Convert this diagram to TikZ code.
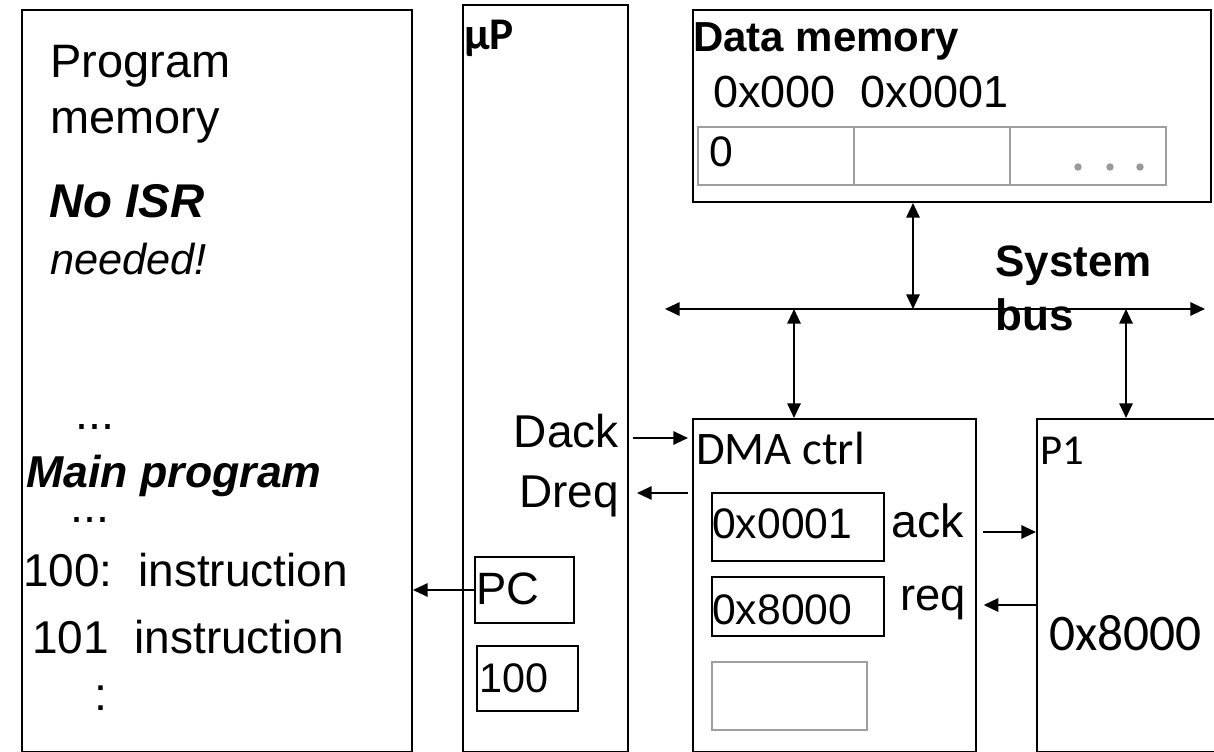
\documentclass[tikz,border=0pt]{standalone}
\usepackage{fontspec}
\setmainfont{Liberation Sans}
\newfontfamily\calfont{Carlito}
\usetikzlibrary{arrows.meta,fit}

\newcommand{\fs}[1]{\fontsize{#1}{#1}\selectfont}
\tikzset{
  box/.style={draw, line width=1.5pt, inner sep=0pt},
  reg/.style={draw, line width=1.2pt, inner sep=0pt},
  cell/.style={draw=black!38, line width=1.2pt, inner sep=0pt},
  lbl/.style={inner sep=0pt, anchor=base west},
  lblr/.style={inner sep=0pt, anchor=base east},
  dots/.style={lbl, text height=4pt, text depth=0pt},
  arr/.style={line width=1.5pt, -{Triangle[length=11pt,width=10pt]}},
  dbl/.style={line width=1.5pt, {Triangle[length=11pt,width=10pt]}-{Triangle[length=11pt,width=10pt]}},
}

\begin{document}
\begin{tikzpicture}[x=0.75pt,y=-0.75pt]
\useasboundingbox (0,0) rectangle (1214,752);
\clip (0,0) rectangle (1214,752);

% blocks
\node[box, fit={(22,10) (412,752)}] (progmem) {};
\node[box, fit={(463,5) (628,752)}] (cpu) {};
\node[box, fit={(693,10) (1211,202)}] (datamem) {};
\node[box, fit={(693,419) (976,752)}] (dma) {};
\node[box, fit={(1037,419) (1240,752)}] (pone) {};

% program memory
\node[lbl, font=\fs{35.2pt}] (pmA) at (50,78) {Program};
\node[lbl, font=\fs{35.2pt}] (pmB) at (50,134) {memory};
\node[lbl, font=\bfseries\itshape\fs{35.5pt}] (noisr) at (49,218) {No ISR};
\node[lbl, font=\itshape\fs{32.5pt}] (needed) at (50,275) {needed!};
\node[dots, font=\fs{35pt}] (dotsA) at (75,429) {...};
\node[lbl, font=\bfseries\itshape\fs{33.5pt}] (mainprog) at (26,487) {Main program};
\node[dots, font=\fs{35pt}] (dotsB) at (70,522) {...};
\node[lbl, font=\fs{34.5pt}] (insA) at (23,586) {100:\ \ instruction};
\node[lbl, font=\fs{34.5pt}] (insB) at (32,653) {101\ \ instruction};
\node[dots, font=\fs{35pt}] (dotsC) at (94,710) {:};

% processor
\node[lbl, font=\calfont\bfseries\fs{34pt}] (cpuname) at (464,50) {µP};
\node[lblr, font=\fs{34.5pt}] (dack) at (619,447) {Dack};
\node[lblr, font=\fs{34.5pt}] (dreq) at (619,507) {Dreq};
\node[reg, fit={(475,557) (574,623)}] (pc) {};
\node[lbl, font=\fs{34pt}] (pcname) at (476,604) {PC};
\node[reg, fit={(477,646) (578,711)}] (pcval) {};
\node[lbl, font=\fs{31pt}] (pcnum) at (479,692) {100};

% data memory
\node[lbl, font=\bfseries\fs{31.5pt}] (dmname) at (693,52) {Data memory};
\node[lbl, font=\fs{33.75pt}] (addr) at (713,108) {0x000~~0x0001};
\node[cell, fit={(698,127) (854,185)}] (cellA) {};
\node[cell, fit={(854,127) (1010,185)}] (cellB) {};
\node[cell, fit={(1010,127) (1166,185)}] (cellC) {};
\node[lbl, font=\fs{32pt}] (zero) at (709,167) {0};
\foreach \x in {1078,1110,1140}
  \fill[black!40] (\x,167) circle[radius=2.8pt];

% dma controller
\node[lbl, font=\calfont\fs{35pt}] (dmaname) at (696,464) {DMA ctrl};
\node[reg, fit={(712,493) (884,561)}] (srcreg) {};
\node[lbl, font=\fs{32pt}] (srcval) at (712,538) {0x0001};
\node[reg, fit={(712,577) (884,636)}] (dstreg) {};
\node[lbl, font=\fs{32pt}] (dstval) at (712,624) {0x8000};
\node[cell, fit={(712,662) (867,730)}] (cntreg) {};
\node[lbl, font=\fs{35pt}] (ack) at (891,537) {ack};
\node[lbl, font=\fs{34pt}] (req) at (900,610) {req};

% peripheral
\node[lbl, font=\calfont\fs{32pt}] (pname) at (1040,464) {P1};
\node[lbl, font=\calfont\fs{38.5pt}] (pval) at (1049,650) {0x8000};

% system bus
\coordinate (busL) at (665,309);
\coordinate (busR) at (1205,309);
\coordinate (tapM) at (913,309);
\coordinate (tapD) at (794,309);
\coordinate (tapP) at (1126,309);
\draw[dbl] (busL) -- (busR);
\draw[dbl] (datamem.south -| tapM) -- (tapM);
\draw[dbl] (tapD) -- (tapD |- dma.north);
\draw[dbl] (tapP) -- (tapP |- pone.north);
\node[lbl, font=\bfseries\fs{33pt}] (sysA) at (995,277) {System};
\node[lbl, font=\bfseries\fs{33pt}] (sysB) at (995,330) {bus};

% handshake lines
\draw[arr, shorten <=3pt, shorten >=3pt] (cpu.east |- 0,438) -- (dma.west |- 0,438);
\draw[arr, shorten <=3pt, shorten >=6pt] (dma.west |- 0,493) -- (cpu.east |- 0,493);
\draw[arr] (pc.west) -- (progmem.east |- pc.west);
\draw[arr, shorten <=4.5pt] (dma.east |- 0,532) -- (pone.west |- 0,532);
\draw[arr, shorten >=5pt] (pone.west |- 0,605) -- (dma.east |- 0,605);
\end{tikzpicture}
\end{document}
